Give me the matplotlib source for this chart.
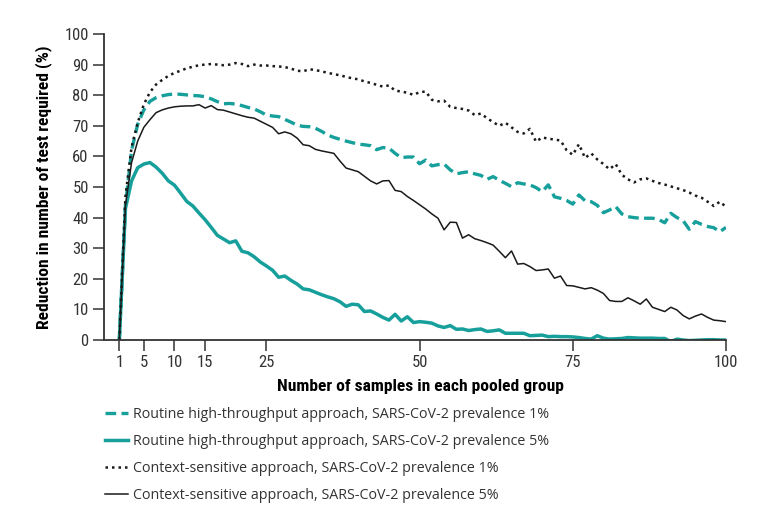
import matplotlib
matplotlib.use("Agg")
import matplotlib.pyplot as plt
from matplotlib import font_manager

# pool sizes 1..100
pool_size = list(range(1, 101))

routine_1pct = [
    0, 44, 62, 70.5, 75.2, 78, 79.2, 79.8, 80.2, 80.4,
    80.3, 80.1, 79.9, 79.8, 79.5, 78.8, 77.9, 77.2, 77.3, 77.1,
    76.6, 76, 75.5, 74.6, 73.5, 73.2, 73, 72.1, 71.2, 70.2,
    69.8, 69.7, 69.2, 68.2, 67, 66.2, 65.6, 65, 64.5, 64,
    63.8, 63.5, 62.2, 62.9, 62.7, 61, 59.6, 59.8, 59.8, 57.6,
    58.8, 56.9, 57.3, 57.5, 55.6, 54.3, 54.7, 55, 54.3, 53.8,
    52.5, 53.4, 52.2, 51.2, 50.1, 51.4, 51, 50.7, 49.8, 48.5,
    50.7, 46.8, 46.3, 45.6, 44.4, 47.4, 45.5, 45.2, 44, 41.6,
    42.5, 43.6, 41.2, 40.3, 40, 39.8, 39.8, 39.8, 39.4, 38.3,
    41.4, 40, 39, 36.2, 38.7, 37.8, 37.1, 36.7, 35.4, 36.8,
]

routine_5pct = [
    0, 43, 52, 56.3, 57.5, 58, 56.5, 54.5, 52, 50.6,
    48, 45.3, 43.8, 41.5, 39.3, 36.8, 34.2, 33, 31.8, 32.4,
    29, 28.5, 27.2, 25.5, 24.2, 22.8, 20.5, 20.9, 19.5, 18.3,
    16.7, 16.4, 15.6, 14.8, 14.1, 13.5, 12.5, 11, 11.7, 11.5,
    9.3, 9.5, 8.5, 7.4, 6.5, 8.4, 6.2, 7.6, 5.7, 6,
    5.8, 5.5, 4.6, 4.1, 4.7, 3.5, 3.6, 3.1, 3.4, 3.6,
    2.8, 3, 3.3, 2.2, 2.2, 2.2, 2.2, 1.4, 1.5, 1.6,
    1.1, 1.2, 1.1, 1.1, 1.0, 0.8, 0.5, 0.3, 1.4, 0.6,
    0.3, 0.4, 0.5, 0.8, 0.7, 0.6, 0.6, 0.6, 0.5, 0.5,
    -0.5, 0.3, 0, -0.2, -0.1, 0, 0.1, 0.1, 0, 0,
]

context_1pct = [
    0, 47, 63, 71, 77, 81, 83.5, 85, 86.3, 87.3,
    88, 88.8, 89.3, 89.8, 90, 90.2, 90, 89.8, 90, 90.5,
    90.2, 89.5, 90, 89.7, 89.7, 89.5, 89.4, 89.2, 88.7, 88,
    87.8, 88.5, 88.2, 87.8, 87.3, 86.9, 86.5, 86, 85.5, 85.2,
    84.5, 84, 83.4, 82.8, 83.2, 81.5, 81.2, 80.8, 80.1, 81,
    81.2, 78.5, 78, 78.2, 76.2, 75.8, 75.5, 75, 73.5, 74,
    72.5, 71.2, 70, 71, 69.5, 68, 67.5, 69, 64.8, 66.2,
    65.8, 65.5, 65.2, 62, 60.5, 64, 59.5, 61, 59, 57.5,
    55.8, 57.5, 54, 52.5, 51.5, 52.5, 52.8, 52, 51.3, 50.8,
    50.2, 49.6, 49, 48.2, 47.2, 46.5, 45.2, 43.8, 45.2, 43.5,
]

context_5pct = [
    0, 44, 58, 65, 69.5, 72, 74.3, 75.2, 75.8, 76.2,
    76.4, 76.5, 76.5, 76.9, 75.8, 76.6, 75.3, 75.1, 74.5, 73.9,
    73.3, 72.8, 72.5, 71.5, 70.5, 69.5, 67.4, 68, 67.4, 66,
    63.8, 63.5, 62.3, 61.8, 61.4, 61, 58.5, 56.2, 55.6, 55,
    53.5, 52, 51, 52, 52.1, 48.9, 48.5, 46.9, 45.6, 44.2,
    42.8, 41.2, 39.8, 36.0, 38.5, 38.4, 33.3, 34.4, 33.1, 32.5,
    31.8, 31.0, 29, 26.9, 29.1, 24.8, 25, 24, 22.7, 22.9,
    23.2, 20.2, 20.9, 17.8, 17.7, 17.2, 16.7, 17.1, 16.3, 15.2,
    12.9, 12.6, 12.6, 13.8, 12.8, 11.7, 13.4, 10.7, 10, 9.3,
    10.7, 9.8, 8, 6.9, 7.8, 8.5, 7.4, 6.5, 6.3, 6.0,
]

x_ticks = [1, 5, 10, 15, 25, 50, 75, 100]
y_ticks = list(range(0, 101, 10))

labels = [
    "Routine high-throughput approach, SARS-CoV-2 prevalence 1%",
    "Routine high-throughput approach, SARS-CoV-2 prevalence 5%",
    "Context-sensitive approach, SARS-CoV-2 prevalence 1%",
    "Context-sensitive approach, SARS-CoV-2 prevalence 5%",
]

TEAL = "#17a09b"

# pick a condensed face if one is installed
installed = {f.name for f in font_manager.fontManager.ttflist}
narrow = [n for n in ["Liberation Sans Narrow", "DejaVu Sans Condensed", "Roboto Condensed"]
          if n in installed]
narrow = narrow + ["DejaVu Sans"]
stretch = "condensed"

fig = plt.figure(figsize=(7.71, 5.23), dpi=100)
ax = fig.add_axes([104 / 771, 1 - 340 / 523, 622 / 771, 306 / 523])

ax.plot(pool_size, routine_1pct, color=TEAL, lw=2.4, ls=(0, (3.2, 1.6)), label=labels[0])
ax.plot(pool_size, routine_5pct, color=TEAL, lw=2.5, label=labels[1])
ax.plot(pool_size, context_1pct, color="#1a1a1a", lw=1.8, ls=(0, (1, 1.6)), label=labels[2])
ax.plot(pool_size, context_5pct, color="#1a1a1a", lw=1.1, label=labels[3])

ax.set_xlim(-1.5, 100)
ax.set_ylim(0, 100)
ax.set_xticks(x_ticks)
ax.set_yticks(y_ticks)
for s in ["top", "right"]:
    ax.spines[s].set_visible(False)
for s in ["left", "bottom"]:
    ax.spines[s].set_color("#333333")
    ax.spines[s].set_linewidth(1.3)
ax.tick_params(direction="out", length=8, width=1.1, color="#333333",
               labelsize=12, labelcolor="#333333", pad=3)
for lab in ax.get_xticklabels() + ax.get_yticklabels():
    lab.set_family(narrow)
    lab.set_stretch(stretch)

ax.set_ylabel("Reduction in number of test required (%)", fontsize=12.6,
              fontweight="bold", family=narrow, stretch=stretch, labelpad=9)
ax.set_xlabel("Number of samples in each pooled group", fontsize=12.6,
              fontweight="bold", family=narrow, stretch=stretch)
ax.xaxis.set_label_coords((420 - 104) / 622, -39 / 306)

fig.legend(loc="upper left", bbox_to_anchor=(92 / 771, 1 - 394 / 523),
           frameon=False, handlelength=1.6, handletextpad=0.4,
           labelspacing=0.85, prop={"family": ["Open Sans", "DejaVu Sans"], "size": 10.3},
           labelcolor="#333333")

fig.savefig("out.png", dpi=100)
